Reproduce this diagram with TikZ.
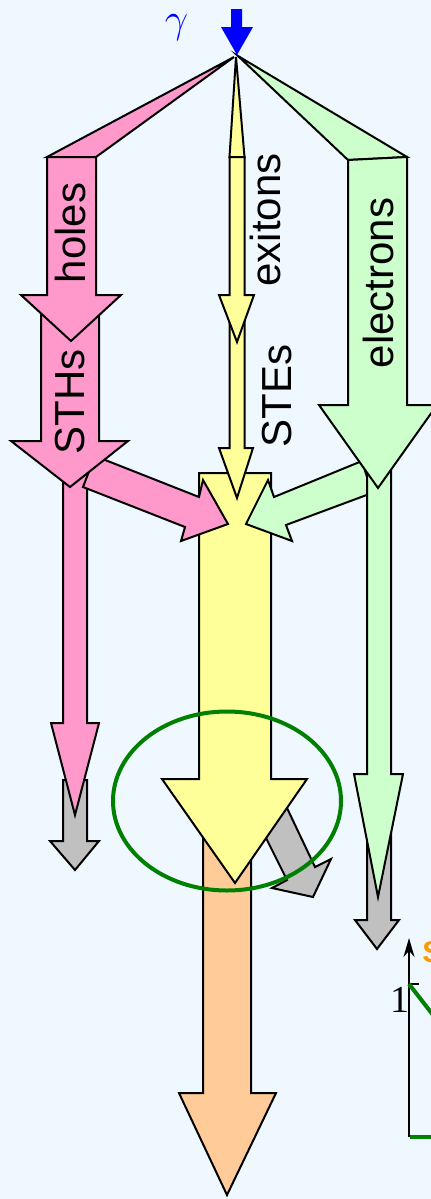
\documentclass[tikz,border=0pt]{standalone}
\usepackage{fontspec}
\setmainfont{Liberation Sans}
\newfontfamily\symfont{Liberation Serif}
\usetikzlibrary{arrows.meta}
\definecolor{bgblue}{RGB}{240,248,255}
\definecolor{holepink}{RGB}{255,153,204}
\definecolor{exiyellow}{RGB}{255,255,153}
\definecolor{elecgreen}{RGB}{204,255,204}
\definecolor{lightorange}{RGB}{255,204,153}
\definecolor{lossgrey}{RGB}{192,192,192}
\definecolor{darkgreen}{RGB}{0,128,0}
\definecolor{sorange}{RGB}{255,153,0}
\tikzset{>=Stealth}
\tikzset{flow/.style={draw=black, line width=1pt, line join=miter}}
\tikzset{flowlabel/.style={font=\fontsize{21}{25}\selectfont, rotate=90, inner sep=0pt}}

\begin{document}
\begin{tikzpicture}[x=0.5pt, y=-0.5pt]
        \useasboundingbox (0,0) rectangle (431,1199);
        \clip (0,0) rectangle (431,1199);
        \fill[bgblue] (0,0) rectangle (431,1199);
        % central channel
        \draw[flow, fill=lightorange] (203,800) -- (251,800) -- (251,1093) -- (276,1093) -- (227,1195) -- (179,1093) -- (203,1093) -- cycle;
        \draw[flow, fill=lossgrey] (275,783) -- (287,808) -- (315,867) -- (331,859) -- (313,897) -- (272,888) -- (287,880) -- (267,840) -- (255,815) -- cycle;
        \draw[flow, fill=exiyellow] (199,473) -- (271,473) -- (271,779) -- (307,779) -- (235,883) -- (162,779) -- (199,779) -- cycle;
        \draw[flow, fill=exiyellow] (229.5,310) -- (244.5,310) -- (244.5,448) -- (253,448) -- (237,498) -- (219,448) -- (229.5,448) -- cycle;
        \draw[flow, fill=exiyellow] (236,57) -- (244.5,157) -- (229.5,157) -- cycle;
        \draw[flow, fill=exiyellow] (229.5,157) -- (244.5,157) -- (244.5,295) -- (254,295) -- (237,342) -- (219,295) -- (229.5,295) -- cycle;
        % holes side
        \draw[flow, fill=lossgrey] (63,780) -- (87,780) -- (87,841) -- (99,841) -- (75,870) -- (50,841) -- (63,841) -- cycle;
        \draw[flow, fill=holepink] (63,470) -- (87,470) -- (87,723) -- (99,723) -- (75,815) -- (51,723) -- (63,723) -- cycle;
        \draw[flow, fill=holepink] (95,456) -- (199,497) -- (203,480) -- (228,524) -- (181,541) -- (185,527) -- (83,487) -- cycle;
        \draw[flow, fill=holepink] (41,310) -- (99,310) -- (99,441) -- (128,441) -- (70,487) -- (11,441) -- (41,441) -- cycle;
        \draw[flow, fill=holepink] (234,57) -- (96,157) -- (47,157) -- cycle;
        \draw[flow, fill=holepink] (47,157) -- (96,157) -- (96,295) -- (121,295) -- (71,341) -- (21,295) -- (47,295) -- cycle;
        % electrons side
        \draw[flow, fill=lossgrey] (367,800) -- (391,800) -- (391,920) -- (399,920) -- (377,949) -- (355,920) -- (367,920) -- cycle;
        \draw[flow, fill=elecgreen] (372,493) -- (286,525) -- (292,541) -- (246,524) -- (268,480) -- (274,497) -- (362,461) -- cycle;
        \draw[flow, fill=elecgreen] (367,470) -- (391,470) -- (391,774) -- (403,774) -- (378,897) -- (354,774) -- (367,774) -- cycle;
        \draw[flow, fill=elecgreen] (238,56) -- (407,157) -- (348,160) -- cycle;
        \draw[flow, fill=elecgreen] (348,160) -- (407,157) -- (407,405) -- (437,405) -- (378,488) -- (319,405) -- (348,405) -- cycle;
        \draw[darkgreen, line width=2pt] (227,801) ellipse [x radius=114, y radius=89.5];
        % incoming quantum
        \fill[blue] (231,9) -- (242,9) -- (242,27) -- (253,27) -- (237,55) -- (221,27) -- (231,27) -- cycle;
        \node[text=blue, font=\fontsize{22}{26}\selectfont, inner sep=0pt] (gammalbl) at (176.5,27.5) {$\gamma$};
        \node[flowlabel] (holeslbl) at (70,233) {holes};
        \node[flowlabel] (sthslbl) at (70,402) {STHs};
        \node[flowlabel] (exitonslbl) at (265.5,220) {exitons};
        \node[flowlabel] (steslbl) at (277,396) {STEs};
        \node[flowlabel] (electronslbl) at (378.5,283) {electrons};
        % corner of the plot
        \draw[line width=0.8pt, ->, >={Stealth[length=9.5pt,width=5.5pt]}] (409,1137) -- (409,938);
        \draw[line width=0.6pt] (409,984) -- (419,984);
        \node[font=\symfont\fontsize{19}{22}\selectfont, inner sep=0pt] (onelbl) at (399.5,999.5) {1};
        \draw[darkgreen, line width=2pt] (409,984) -- (440,1024);
        \draw[darkgreen, line width=2pt] (410,1137) -- (440,1137);
        \node[text=sorange, font=\bfseries\fontsize{15}{18}\selectfont, anchor=west, inner sep=0pt] (slbl) at (422,952) {S};
      \end{tikzpicture}
\end{document}
